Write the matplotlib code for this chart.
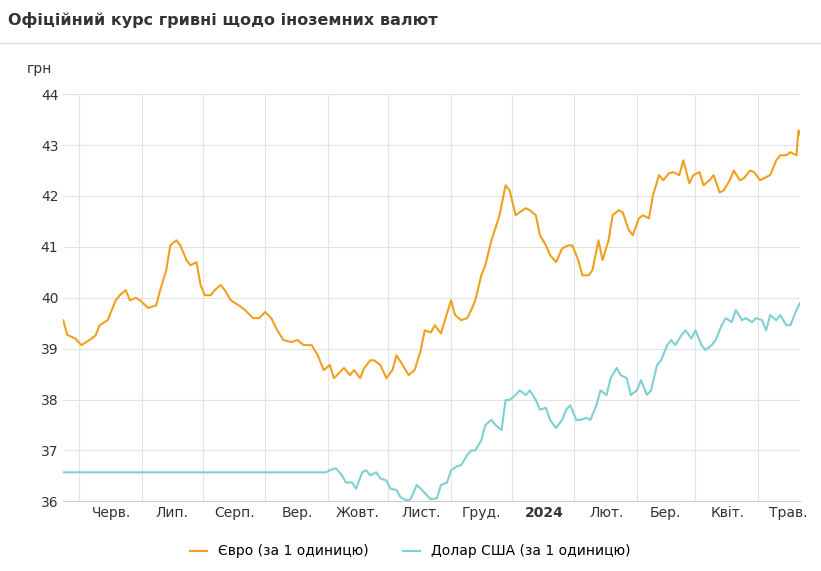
import datetime as dt
import matplotlib.pyplot as plt
import matplotlib.dates as mdates

START = dt.date(2023, 5, 8)

eur_days = [0, 2, 6, 9, 13, 16, 18, 22, 26, 28, 31, 33, 36, 38, 42, 46, 48, 51, 53, 56,
            58, 61, 63, 66, 68, 70, 73, 75, 78, 80, 83, 87, 90, 94, 97, 100, 103, 106, 109, 113,
            116, 119, 123, 126, 129, 132, 134, 137, 139, 142, 144, 147, 149, 152, 154, 157, 160, 163, 165, 168,
            171, 174, 177, 179, 182, 184, 187, 189, 192, 194, 197, 200, 202, 204, 207, 209, 212, 214, 216, 219,
            221, 224, 226, 229, 231, 234, 236, 239, 241, 244, 247, 250, 252, 255, 257, 260, 262, 265, 267, 270,
            272, 275, 277, 280, 282, 285, 287, 290, 292, 295, 297, 300, 302, 305, 307, 310, 312, 315, 317, 320,
            322, 325, 327, 330, 332, 335, 337, 340, 342, 345, 347, 350, 353, 355, 358, 360, 363, 364, 365]
eur_vals = [39.56, 39.27, 39.2, 39.07, 39.17, 39.26, 39.46, 39.56, 39.95, 40.05, 40.15, 39.95, 40.0, 39.95, 39.8, 39.85, 40.15, 40.54, 41.03, 41.13,
            41.03, 40.74, 40.64, 40.7, 40.25, 40.05, 40.05, 40.15, 40.25, 40.15, 39.95, 39.85, 39.76, 39.6, 39.6, 39.72, 39.6, 39.36, 39.17, 39.13,
            39.17, 39.07, 39.07, 38.87, 38.58, 38.68, 38.42, 38.54, 38.62, 38.48, 38.58, 38.42, 38.62, 38.77, 38.77, 38.68, 38.42, 38.58, 38.87, 38.68,
            38.48, 38.58, 38.97, 39.36, 39.32, 39.46, 39.3, 39.56, 39.95, 39.66, 39.56, 39.6, 39.76, 39.95, 40.44, 40.64, 41.13, 41.37, 41.62, 42.21,
            42.11, 41.62, 41.68, 41.76, 41.72, 41.62, 41.23, 41.03, 40.84, 40.7, 40.97, 41.03, 41.03, 40.74, 40.44, 40.44, 40.54, 41.13, 40.74, 41.13,
            41.62, 41.72, 41.68, 41.33, 41.23, 41.56, 41.62, 41.56, 42.02, 42.41, 42.31, 42.45, 42.47, 42.41, 42.7, 42.25, 42.41, 42.47, 42.21, 42.31,
            42.41, 42.07, 42.11, 42.31, 42.5, 42.31, 42.35, 42.5, 42.47, 42.31, 42.35, 42.41, 42.7, 42.8, 42.8, 42.86, 42.8, 43.29, 43.2]

usd_days = [0, 130, 132, 135, 138, 140, 143, 145, 148, 150, 152, 155, 157, 160, 162, 165, 167, 170, 172, 175,
            177, 180, 182, 185, 187, 190, 192, 195, 197, 200, 202, 204, 207, 209, 212, 214, 217, 219, 221, 224,
            226, 229, 231, 234, 236, 239, 241, 244, 247, 249, 251, 254, 256, 259, 261, 264, 266, 269, 271, 274,
            276, 279, 281, 284, 286, 289, 291, 294, 296, 299, 301, 303, 306, 308, 311, 313, 316, 318, 321, 323,
            326, 328, 331, 333, 336, 338, 341, 343, 346, 348, 350, 353, 355, 358, 360, 363, 365]
usd_vals = [36.57, 36.57, 36.61, 36.65, 36.51, 36.37, 36.37, 36.25, 36.57, 36.61, 36.51, 36.57, 36.45, 36.41, 36.25, 36.22, 36.08, 36.02, 36.04, 36.32,
            36.25, 36.12, 36.04, 36.06, 36.32, 36.37, 36.61, 36.69, 36.71, 36.91, 37.0, 37.0, 37.2, 37.5, 37.6, 37.5, 37.4, 37.99, 37.99, 38.09,
            38.18, 38.09, 38.18, 37.99, 37.8, 37.84, 37.6, 37.44, 37.6, 37.8, 37.89, 37.6, 37.6, 37.64, 37.6, 37.89, 38.18, 38.09, 38.42, 38.62,
            38.48, 38.42, 38.09, 38.18, 38.38, 38.09, 38.18, 38.68, 38.77, 39.07, 39.17, 39.07, 39.26, 39.36, 39.2, 39.36, 39.07, 38.97, 39.07, 39.17,
            39.46, 39.6, 39.52, 39.76, 39.56, 39.6, 39.52, 39.6, 39.56, 39.36, 39.66, 39.56, 39.66, 39.46, 39.46, 39.76, 39.91]

month_labels = ["Черв.", "Лип.", "Серп.", "Вер.", "Жовт.", "Лист.", "Груд.", "2024",
                "Лют.", "Бер.", "Квіт.", "Трав."]

eur_x = [START + dt.timedelta(days=d) for d in eur_days]
usd_x = [START + dt.timedelta(days=d) for d in usd_days]

fig = plt.figure(figsize=(8.21, 5.71), dpi=100)
ax = fig.add_axes([0.077, 0.122, 0.898, 0.713])

ax.plot(eur_x, eur_vals, color="#f0a020", lw=1.5, label="Євро (за 1 одиницю)")
ax.plot(usd_x, usd_vals, color="#7fd0d0", lw=1.5, label="Долар США (за 1 одиницю)")

ax.set_xlim(START, START + dt.timedelta(days=365))
ax.set_ylim(36, 44)
ax.set_yticks(range(36, 45))
ticks = [dt.date(2023, m, 1) for m in range(6, 13)] + [dt.date(2024, m, 1) for m in range(1, 6)]
ax.set_xticks(ticks)
ax.set_xticklabels(month_labels)
for t in ax.get_xticklabels():
    if t.get_text() == "2024":
        t.set_fontweight("bold")
ax.set_xticks([dt.date(2023, m, 16) for m in range(5, 13)] + [dt.date(2024, m, 16) for m in range(1, 5)], minor=True)
ax.grid(True, which="major", axis="y", color="#e3e3e3", lw=0.8)
ax.grid(True, which="minor", axis="x", color="#e3e3e3", lw=0.8)
ax.tick_params(which="both", length=0, labelsize=10, colors="#333333")
for s in ["top", "right", "left"]:
    ax.spines[s].set_visible(False)
ax.spines["bottom"].set_color("#cccccc")

fig.text(0.01, 0.965, "Офіційний курс гривні щодо іноземних валют", fontsize=11.5,
         fontweight="bold", color="#333333", va="center")
fig.add_artist(plt.Line2D([0, 1], [0.925, 0.925], color="#dddddd", lw=1))
fig.text(0.033, 0.872, "грн", fontsize=10, color="#333333")
fig.legend(loc="lower center", ncol=2, frameon=False, fontsize=10, bbox_to_anchor=(0.5, 0.0),
           handlelength=1.2, columnspacing=2.5)

fig.savefig("out.png", dpi=100)
